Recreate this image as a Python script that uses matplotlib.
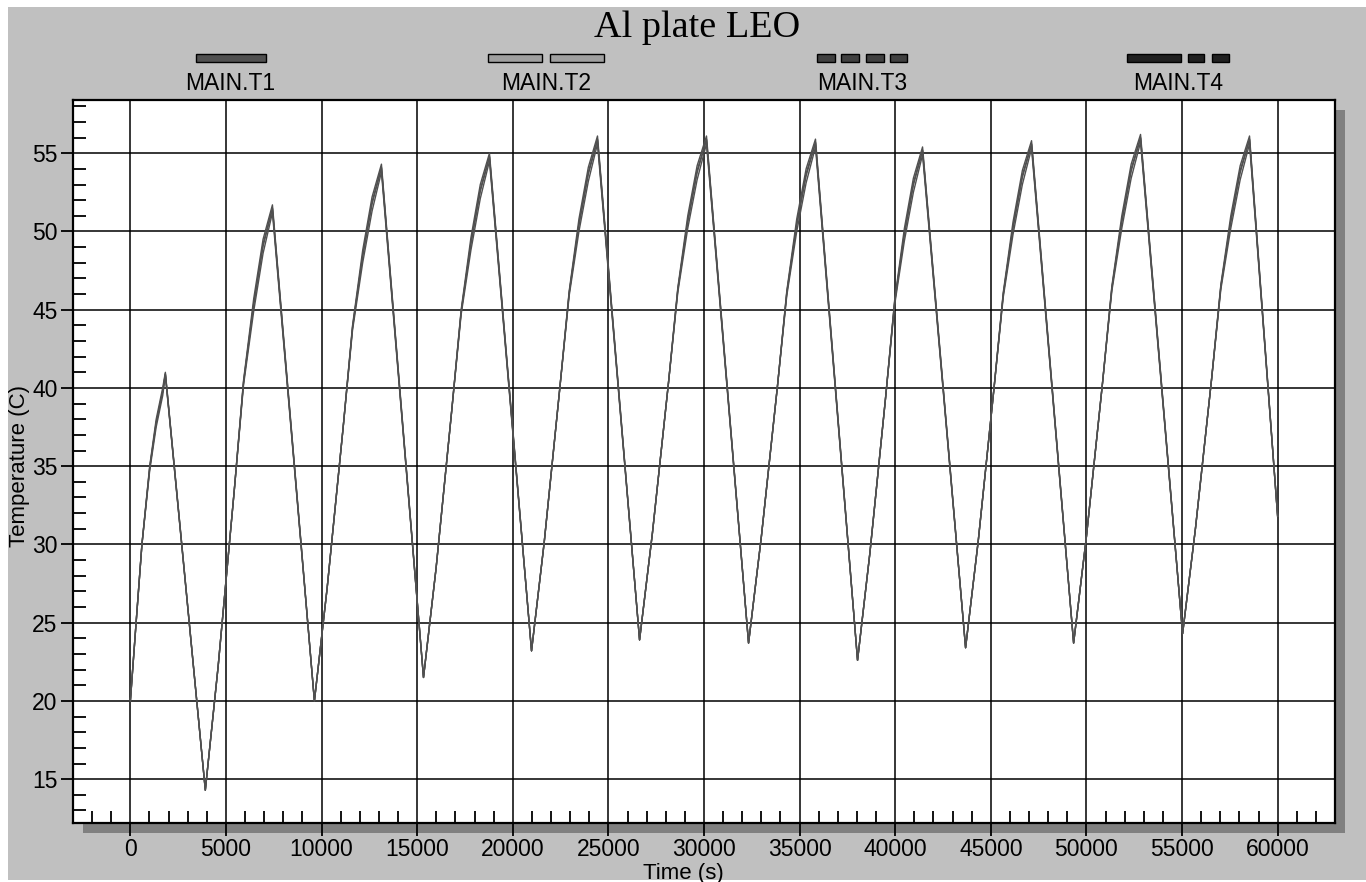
import matplotlib
matplotlib.use('Agg')
import matplotlib.pyplot as plt
from matplotlib.patches import Rectangle
from matplotlib.ticker import MultipleLocator

# ---------------- data ----------------
time_s = [0, 300, 605, 1010, 1350, 1690, 1830,
          3920, 4590, 5430, 5920, 6450, 6940, 7430,
          9625, 10290, 11130, 11620, 12150, 12640, 13130,
          15330, 15990, 16810, 17300, 17810, 18300, 18780,
          20980, 21640, 22460, 22950, 23460, 23950, 24430,
          26630, 27300, 28140, 28630, 29150, 29640, 30130,
          32330, 33000, 33840, 34330, 34850, 35340, 35830,
          38030, 38680, 39490, 39970, 40480, 40950, 41430,
          43680, 44340, 45160, 45650, 46160, 46650, 47130,
          49330, 50000, 50840, 51330, 51850, 52340, 52830,
          55030, 55700, 56540, 57030, 57550, 58040, 58530,
          60000]

main_t1 = [20.0, 25.0, 30.0, 35.0, 38.0, 40.0, 41.0,
           14.3, 22.2, 33.4, 40.5, 45.7, 49.5, 51.7,
           20.0, 27.2, 37.5, 44.0, 48.8, 52.2, 54.3,
           21.5, 28.5, 38.6, 45.0, 49.6, 53.0, 55.0,
           23.2, 30.1, 40.0, 46.2, 50.8, 54.1, 56.1,
           23.9, 30.7, 40.3, 46.4, 51.0, 54.2, 56.1,
           23.7, 30.5, 40.1, 46.2, 50.8, 54.0, 55.9,
           22.6, 29.5, 39.3, 45.6, 50.2, 53.4, 55.4,
           23.4, 30.2, 39.9, 46.1, 50.6, 53.9, 55.8,
           23.7, 30.5, 40.3, 46.5, 51.0, 54.3, 56.2,
           24.3, 31.0, 40.5, 46.6, 51.0, 54.2, 56.1,
           31.8]

main_t2 = [20.0, 25.0, 30.0, 34.85, 37.75, 39.75, 40.9,
           14.3, 22.2, 33.4, 40.35, 45.3, 49.05, 51.45,
           20.0, 27.2, 37.5, 43.85, 48.4, 51.75, 54.05,
           21.5, 28.5, 38.6, 44.85, 49.2, 52.55, 54.75,
           23.2, 30.1, 40.0, 46.05, 50.4, 53.65, 55.85,
           23.9, 30.7, 40.3, 46.25, 50.6, 53.75, 55.85,
           23.7, 30.5, 40.1, 46.05, 50.4, 53.55, 55.65,
           22.6, 29.5, 39.3, 45.45, 49.8, 52.95, 55.15,
           23.4, 30.2, 39.9, 45.95, 50.2, 53.45, 55.55,
           23.7, 30.5, 40.3, 46.35, 50.6, 53.85, 55.95,
           24.3, 31.0, 40.5, 46.45, 50.6, 53.75, 55.85,
           31.8]

main_t3 = [20.0, 25.0, 30.0, 34.7, 37.5, 39.5, 40.8,
           14.3, 22.2, 33.4, 40.2, 44.9, 48.6, 51.2,
           20.0, 27.2, 37.5, 43.7, 48.0, 51.3, 53.8,
           21.5, 28.5, 38.6, 44.7, 48.8, 52.1, 54.5,
           23.2, 30.1, 40.0, 45.9, 50.0, 53.2, 55.6,
           23.9, 30.7, 40.3, 46.1, 50.2, 53.3, 55.6,
           23.7, 30.5, 40.1, 45.9, 50.0, 53.1, 55.4,
           22.6, 29.5, 39.3, 45.3, 49.4, 52.5, 54.9,
           23.4, 30.2, 39.9, 45.8, 49.8, 53.0, 55.3,
           23.7, 30.5, 40.3, 46.2, 50.2, 53.4, 55.7,
           24.3, 31.0, 40.5, 46.3, 50.2, 53.3, 55.6,
           31.8]

main_t4 = [20.0, 25.0, 30.0, 34.9, 37.8, 39.8, 40.9,
           14.3, 22.2, 33.4, 40.4, 45.4, 49.2, 51.5,
           20.0, 27.2, 37.5, 43.9, 48.5, 51.9, 54.1,
           21.5, 28.5, 38.6, 44.9, 49.3, 52.7, 54.8,
           23.2, 30.1, 40.0, 46.1, 50.5, 53.8, 55.9,
           23.9, 30.7, 40.3, 46.3, 50.7, 53.9, 55.9,
           23.7, 30.5, 40.1, 46.1, 50.5, 53.7, 55.7,
           22.6, 29.5, 39.3, 45.5, 49.9, 53.1, 55.2,
           23.4, 30.2, 39.9, 46.0, 50.3, 53.6, 55.6,
           23.7, 30.5, 40.3, 46.4, 50.7, 54.0, 56.0,
           24.3, 31.0, 40.5, 46.5, 50.7, 53.9, 55.9,
           31.8]

series_names = ['MAIN.T1', 'MAIN.T2', 'MAIN.T3', 'MAIN.T4']
x_ticks = [0, 5000, 10000, 15000, 20000, 25000, 30000,
           35000, 40000, 45000, 50000, 55000, 60000]
y_ticks = [15, 20, 25, 30, 35, 40, 45, 50, 55]
title = 'Al plate LEO'
x_label = 'Time (s)'
y_label = 'Temperature (C)'

# ---------------- styling ----------------
W, H = 1366, 882
plt.rcParams['font.family'] = ['Liberation Sans', 'DejaVu Sans']
fig = plt.figure(figsize=(W / 100, H / 100), dpi=100)
fig.patch.set_facecolor('white')


def fx(x):
    return x / W


def fy(y):
    return 1 - y / H


# grey page background
fig.add_artist(Rectangle((fx(8), fy(880)), fx(W) - fx(8), fy(7) - fy(880),
                         transform=fig.transFigure, facecolor='#c0c0c0',
                         edgecolor='none', zorder=-5))
# drop shadow of the plot box
fig.add_artist(Rectangle((fx(83), fy(833)), fx(1262), 723 / H,
                         transform=fig.transFigure, facecolor='#808080',
                         edgecolor='none', zorder=-4))

ax = fig.add_axes([fx(73), fy(823), fx(1262), 723 / H])
ax.set_facecolor('white')

line_color = '#505050'
for vals in (main_t1, main_t2, main_t3, main_t4):
    ax.plot(time_s, vals, color=line_color, lw=1.0, zorder=3)

ax.set_xlim(-3000, 63000)
ax.set_ylim(12.2, 58.4)
ax.set_xticks(x_ticks)
ax.set_yticks(y_ticks)
ax.xaxis.set_minor_locator(MultipleLocator(1000))
ax.yaxis.set_minor_locator(MultipleLocator(1))
ax.tick_params(which='major', direction='out', length=9, width=1.3,
               labelsize=16.5, color='black', labelcolor='black')
ax.tick_params(axis='x', which='major', pad=2)
ax.tick_params(axis='y', which='major', pad=2)
ax.tick_params(which='minor', direction='in', length=9, width=1.3)
ax.grid(which='major', color='black', lw=1.1, zorder=1)
ax.set_axisbelow(True)
for s in ax.spines.values():
    s.set_linewidth(1.6)
    s.set_color('black')

# title and axis labels
fig.text(fx(697), fy(28), title, ha='center', va='center', fontsize=27.5,
         family=['Liberation Serif', 'DejaVu Serif'])
fig.text(fx(683), fy(873), x_label, ha='center', va='center', fontsize=16)
fig.text(fx(20), fy(466), y_label, ha='center', va='center', fontsize=16,
         rotation=90)

# legend: styled bar samples above labels
legend_colors = ['#505050', '#a0a0a0', '#404040', '#202020']
legend_segments = [
    [(196, 266)],
    [(488, 542), (550, 604)],
    [(817, 835), (841, 859), (866, 884), (890, 907)],
    [(1127, 1181), (1188, 1204), (1212, 1229)],
]
label_centers = [230, 546, 862, 1178]
for name, col, segs, cx in zip(series_names, legend_colors, legend_segments,
                               label_centers):
    for x0, x1 in segs:
        fig.add_artist(Rectangle((fx(x0), fy(62)), fx(x1 - x0), 8 / H,
                                 transform=fig.transFigure, facecolor=col,
                                 edgecolor='black', lw=1.0))
    fig.text(fx(cx), fy(84), name, ha='center', va='center', fontsize=16.5)

fig.savefig('out.png', dpi=100)
